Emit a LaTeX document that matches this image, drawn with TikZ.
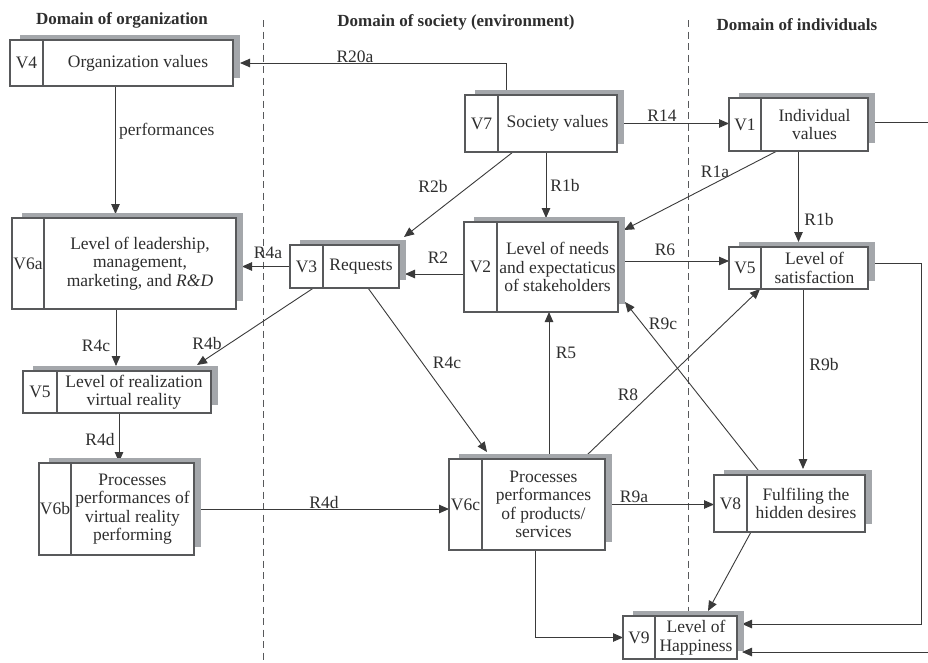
\documentclass[tikz,border=0pt]{standalone}
\usepackage{fontspec}
\setmainfont{Liberation Serif}
\usetikzlibrary{arrows.meta,calc}

\definecolor{framegray}{HTML}{58595B}
\definecolor{shadegray}{HTML}{A4A7AB}
\definecolor{linegray}{HTML}{3A3A3A}
\definecolor{inkgray}{HTML}{2E2E2E}

\pgfdeclarelayer{wires}
\pgfsetlayers{wires,main}

\tikzset{
  boxframe/.style={rectangle, draw=framegray, line width=2.4pt, fill=white, inner sep=0pt, outer sep=0pt},
  framepen/.style={draw=framegray, line width=2.4pt},
  txt/.style={text=inkgray, font=\fontsize{17.5}{18.5}\selectfont, inner sep=0pt},
  title/.style={text=inkgray, font=\fontsize{17}{19}\selectfont\bfseries, inner sep=0pt},
  wire/.style={draw=linegray, line width=0.9pt},
  conn/.style={wire, -{Triangle[length=10pt,width=8.5pt]}},
  dashline/.style={draw=framegray, line width=0.9pt, dash pattern=on 7pt off 4.5pt}
}

% #1 name, #2/#3 top-left corner, #4/#5 bottom-right corner,
% #6 x of the divider, #7 tag, #8 body text
\newcommand\valuebox[8]{%
  \pgfmathsetmacro\vbw{#4-#2}\pgfmathsetmacro\vbh{#5-#3}%
  \fill[shadegray] (#2+10,#3-5) rectangle (#4+7,#5-8);
  \node[boxframe, minimum width=\vbw pt, minimum height=\vbh pt, anchor=north west] (#1) at (#2,#3) {};
  \draw[framepen] (#6,#3) -- (#6,#5);
  \node[txt] (#1-tag) at ({(#2+#6)/2},{(#3+#5)/2}) {#7};
  \node[txt, align=center] (#1-body) at ({(#6+#4)/2},{(#3+#5)/2}) {#8};
}

\begin{document}
\begin{tikzpicture}[x=1pt,y=-1pt]
\useasboundingbox (0,0) rectangle (928,662);

% domain headings
\node[title] (t-org) at (122,20) {Domain of organization};
\node[title] (t-soc) at (456,22) {Domain of society (environment)};
\node[title] (t-ind) at (797,25) {Domain of individuals};

% value boxes
\valuebox{v4}{10}{40}{233}{86}{43}{V4}{Organization values}
\valuebox{v7}{465}{95}{617}{152}{498}{V7}{Society values}
\valuebox{v1}{729}{98}{868}{151}{761}{V1}{Individual\\values}
\valuebox{v6a}{12}{218}{236}{309}{44}{V6a}{Level of leadership,\\management,\\marketing, and \textit{R\&D}}
\valuebox{v3}{290}{245}{399}{288}{323}{V3}{Requests}
\valuebox{v2}{464}{222}{618}{312}{497}{V2}{Level of needs\\and expectaticus\\of stakeholders}
\valuebox{v5s}{729}{247}{868}{289}{761}{V5}{Level of\\satisfaction}
\valuebox{v5r}{23}{371}{211}{413}{57}{V5}{Level of realization\\virtual reality}
\valuebox{v6b}{39}{463}{194}{555}{71}{V6b}{Processes\\performances of\\virtual reality\\performing}
\valuebox{v6c}{449}{459}{605}{550}{482}{V6c}{Processes\\performances\\of products/\\services}
\valuebox{v8}{714}{475}{865}{532}{747}{V8}{Fulfiling the\\hidden desires}
\valuebox{v9}{623}{616}{737}{659}{655}{V9}{Level of\\Happiness}

\coordinate (rimR) at (928,0);
\coordinate (rimLoop) at (921,0);

\begin{pgfonlayer}{wires}
  % domain separators
  \draw[dashline] (263,20) -- (263,662);
  \draw[dashline] (688,20) -- (688,662);

  % R20a
  \draw[conn, shorten >=7pt] ([xshift=-35pt]v7.north) |- (v4.east);
  % performances
  \coordinate (perfTop) at ([xshift=-6pt]v4.south);
  \draw[conn, shorten >=4pt] (perfTop) -- (perfTop |- v6a.north);
  % R14
  \draw[conn] (v7.east) -- (v7.east -| v1.west);
  % V1 towards the right margin
  \coordinate (v1out) at ([yshift=2pt]v1.east);
  \draw[wire] (v1out) -- (v1out -| rimR);
  % R2b
  \draw[conn] ([xshift=-28pt]v7.south) -- ([xshift=5pt,yshift=8pt]v3.north east);
  % R1b (society)
  \coordinate (r1bTop) at ([xshift=5pt]v7.south);
  \draw[conn, shorten >=4pt] (r1bTop) -- (r1bTop |- v2.north);
  % R1a
  \draw[conn] ([xshift=-21.5pt]v1.south) -- ([xshift=6pt,yshift=-8pt]v2.north east);
  % R1b (individuals)
  \draw[conn, shorten >=5pt] (v1.south) -- (v1.south |- v5s.north);
  % R4a
  \draw[conn, shorten >=6pt] (v3.west) -- (v3.west -| v6a.east);
  % R2
  \coordinate (r2From) at ([yshift=-7pt]v2.west);
  \draw[conn, shorten >=6pt] (r2From) -- (r2From -| v3.east);
  % R6
  \coordinate (r6From) at ([yshift=6pt]v2.east);
  \draw[conn] (r6From) -- (r6From -| v5s.west);
  % R4c (organization)
  \coordinate (r4cTop) at ([xshift=-8pt]v6a.south);
  \draw[conn, shorten >=5pt] (r4cTop) -- (r4cTop |- v5r.north);
  % R4b
  \draw[conn] ([xshift=-31pt]v3.south) -- ([xshift=-14pt,yshift=6pt]v5r.north east);
  % R4c (society)
  \draw[conn] ([xshift=23.5pt]v3.south) -- ([xshift=38pt,yshift=7pt]v6c.north west);
  % R5
  \coordinate (r5Base) at ([xshift=22pt]v6c.north);
  \draw[conn] (r5Base) -- (r5Base |- v2.south);
  % R8
  \draw[conn] ([xshift=-18pt,yshift=4pt]v6c.north east) -- ([xshift=31pt]v5s.south west);
  % R9c
  \draw[conn] ([xshift=48pt]v8.north west) -- ([xshift=7pt,yshift=10pt]v2.south east);
  % R9b
  \coordinate (r9bTop) at ([xshift=4.5pt]v5s.south);
  \draw[conn, shorten >=6pt] (r9bTop) -- (r9bTop |- v8.north);
  % satisfaction loop into V9
  \coordinate (v5out) at ([yshift=5pt]v5s.east);
  \coordinate (v9inA) at ([yshift=13.5pt]v9.east);
  \draw[conn, shorten >=5pt] (v5out) -| (v9inA -| rimLoop) -- (v9inA);
  % from the right margin into V9
  \coordinate (v9inB) at ([yshift=-14.5pt]v9.east);
  \draw[conn, shorten >=5pt] (v9inB -| rimR) -- (v9inB);
  % R4d (organization)
  \coordinate (r4dTop) at ([xshift=2pt]v5r.south);
  \draw[conn, shorten >=1pt] (r4dTop) -- (r4dTop |- v6b.north);
  % R4d (to products)
  \draw[conn] (v6b.east) -- (v6b.east -| v6c.west);
  % R9a
  \draw[conn] (v6c.east) -- (v6c.east -| v8.west);
  % V8 to V9
  \draw[conn] ([xshift=37pt]v8.south west) -- ([xshift=85pt,yshift=5pt]v9.north west);
  % V6c to V9
  \draw[conn] ([xshift=8pt]v6c.south) |- (v9.west);
\end{pgfonlayer}

% connector labels
\node[txt] (l-r20a) at (355,57) {R20a};
\node[txt, anchor=west] (l-perf) at (119,131) {performances};
\node[txt] (l-r14) at (662,116) {R14};
\node[txt] (l-r2b) at (433,187) {R2b};
\node[txt] (l-r1b-a) at (565,186) {R1b};
\node[txt] (l-r1a) at (715,172) {R1a};
\node[txt] (l-r1b-b) at (819,220) {R1b};
\node[txt] (l-r4a) at (268,253) {R4a};
\node[txt] (l-r2) at (438,258) {R2};
\node[txt] (l-r6) at (665,250) {R6};
\node[txt] (l-r4c-a) at (96,346) {R4c};
\node[txt] (l-r4b) at (207,344) {R4b};
\node[txt] (l-r4c-b) at (447,363) {R4c};
\node[txt] (l-r5) at (566,353) {R5};
\node[txt] (l-r8) at (628,395) {R8};
\node[txt] (l-r9c) at (663,324) {R9c};
\node[txt] (l-r9b) at (824,365) {R9b};
\node[txt] (l-r4d-a) at (100,440) {R4d};
\node[txt, anchor=base] (l-r4d-b) at (324,508) {R4d};
\node[txt] (l-r9a) at (634,497) {R9a};
\end{tikzpicture}
\end{document}
